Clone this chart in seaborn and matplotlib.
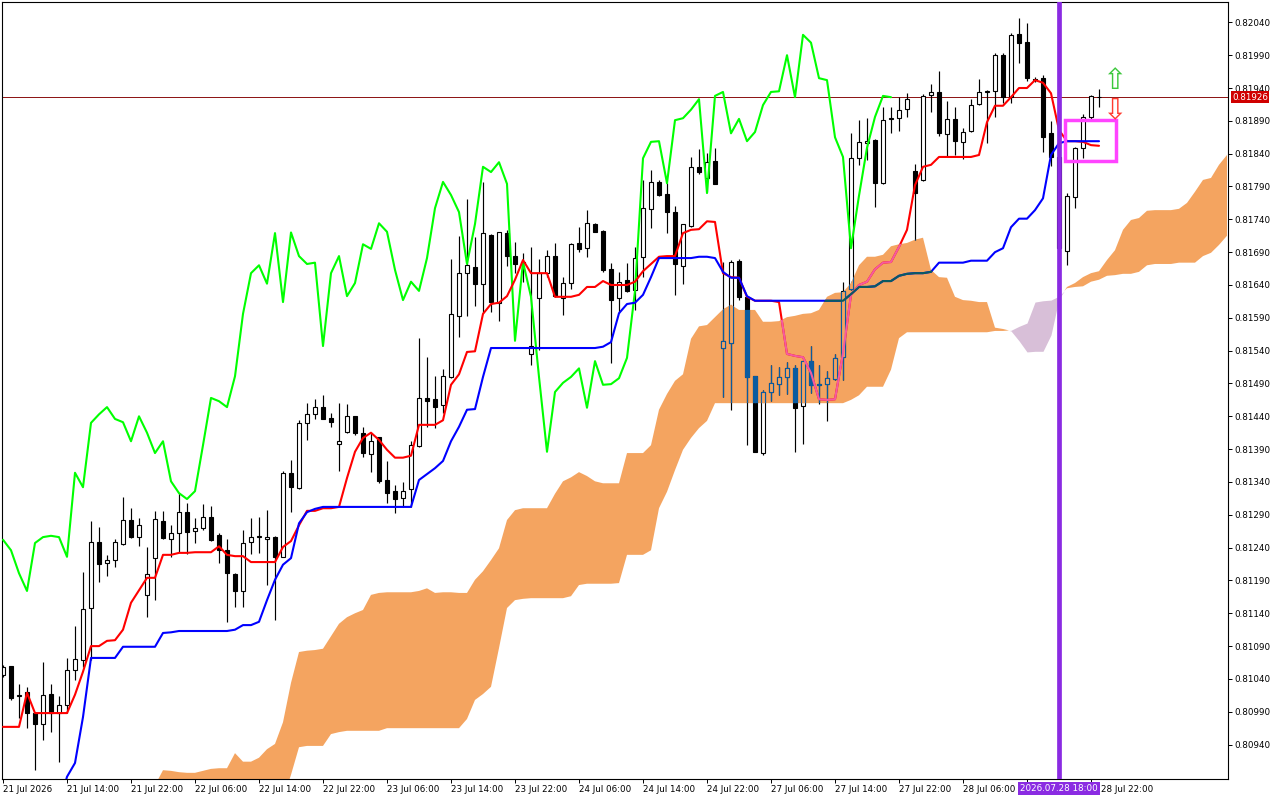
import numpy as np
import pandas as pd
import matplotlib
matplotlib.use("Agg")
import matplotlib.pyplot as plt
import matplotlib.transforms as mtransforms
from matplotlib.path import Path
from matplotlib.patches import Rectangle
import seaborn as sns

nan = np.nan

# ---------------- data (hourly bars, index 0 = 21 Jul 06:00) ----------------
open_ = [
    0.81046, 0.81060, 0.81014, 0.81020, 0.80988, 0.80971, 0.81017, 0.80988, 0.81000, 0.81054,
    0.81069, 0.81148, 0.81249, 0.81217, 0.81221, 0.81246, 0.81282, 0.81256, 0.81168, 0.81224,
    0.81281, 0.81253, 0.81262, 0.81294, 0.81265, 0.81270, 0.81287, 0.81259, 0.81236, 0.81200,
    0.81174, 0.81249, 0.81256, 0.81253, 0.81256, 0.81226, 0.81354, 0.81331, 0.81430, 0.81443,
    0.81454, 0.81437, 0.81398, 0.81416, 0.81440, 0.81415, 0.81383, 0.81408, 0.81343, 0.81326,
    0.81316, 0.81329, 0.81395, 0.81468, 0.81466, 0.81457, 0.81500, 0.81593, 0.81658, 0.81667,
    0.81642, 0.81716, 0.81613, 0.81719, 0.81684, 0.81675, 0.81535, 0.81620, 0.81658, 0.81684,
    0.81620, 0.81643, 0.81704, 0.81696, 0.81733, 0.81722, 0.81664, 0.81620, 0.81648, 0.81632,
    0.81683, 0.81756, 0.81797, 0.81779, 0.81751, 0.81669, 0.81730, 0.81820, 0.81803, 0.81829,
    0.81544, 0.81552, 0.81677, 0.81622, 0.81501, 0.81384, 0.81477, 0.81489, 0.81500, 0.81513,
    0.81456, 0.81524, 0.81488, 0.81489, 0.81497, 0.81530, 0.81634, 0.81833, 0.81856, 0.81861,
    0.81795, 0.81893, 0.81894, 0.81908, 0.81814, 0.81800, 0.81929, 0.81934, 0.81870, 0.81893,
    0.81858, 0.81875, 0.81916, 0.81934, 0.81935, 0.81990, 0.81926, 0.82022, 0.82010, 0.81954,
    0.81955, 0.81871, 0.81835, 0.81692, 0.81774, 0.81849, 0.81896, 0.81927,
]
high = [
    0.81061, 0.81060, 0.81032, 0.81028, 0.80989, 0.81066, 0.81032, 0.81014, 0.81072, 0.81121,
    0.81203, 0.81281, 0.81271, 0.81229, 0.81253, 0.81317, 0.81300, 0.81285, 0.81241, 0.81296,
    0.81296, 0.81274, 0.81323, 0.81308, 0.81285, 0.81306, 0.81303, 0.81262, 0.81253, 0.81201,
    0.81267, 0.81285, 0.81287, 0.81297, 0.81257, 0.81357, 0.81373, 0.81434, 0.81460, 0.81466,
    0.81472, 0.81445, 0.81460, 0.81459, 0.81441, 0.81424, 0.81415, 0.81409, 0.81372, 0.81335,
    0.81340, 0.81402, 0.81559, 0.81530, 0.81501, 0.81512, 0.81680, 0.81715, 0.81771, 0.81713,
    0.81797, 0.81717, 0.81721, 0.81724, 0.81705, 0.81689, 0.81698, 0.81680, 0.81693, 0.81704,
    0.81652, 0.81704, 0.81728, 0.81754, 0.81734, 0.81723, 0.81674, 0.81660, 0.81674, 0.81698,
    0.81800, 0.81815, 0.81800, 0.81795, 0.81760, 0.81733, 0.81835, 0.81847, 0.81841, 0.81849,
    0.81675, 0.81678, 0.81680, 0.81623, 0.81502, 0.81480, 0.81518, 0.81515, 0.81523, 0.81518,
    0.81524, 0.81547, 0.81518, 0.81509, 0.81535, 0.81645, 0.81871, 0.81891, 0.81894, 0.81862,
    0.81911, 0.81911, 0.81926, 0.81932, 0.81824, 0.81931, 0.81946, 0.81966, 0.81920, 0.81911,
    0.81879, 0.81923, 0.81954, 0.81937, 0.81993, 0.81993, 0.82024, 0.82047, 0.82039, 0.81957,
    0.81960, 0.81890, 0.81846, 0.81780, 0.81850, 0.81900, 0.81929, 0.81939,
]
low = [
    0.81043, 0.81008, 0.80981, 0.80965, 0.80901, 0.80947, 0.80959, 0.80914, 0.80988, 0.81038,
    0.81058, 0.81069, 0.81188, 0.81197, 0.81211, 0.81244, 0.81255, 0.81242, 0.81134, 0.81160,
    0.81253, 0.81226, 0.81233, 0.81230, 0.81247, 0.81267, 0.81250, 0.81217, 0.81127, 0.81150,
    0.81150, 0.81230, 0.81232, 0.81183, 0.81130, 0.81225, 0.81294, 0.81329, 0.81404, 0.81436,
    0.81436, 0.81424, 0.81357, 0.81415, 0.81412, 0.81378, 0.81355, 0.81338, 0.81308, 0.81293,
    0.81302, 0.81302, 0.81393, 0.81424, 0.81422, 0.81445, 0.81499, 0.81561, 0.81593, 0.81608,
    0.81597, 0.81599, 0.81585, 0.81669, 0.81658, 0.81645, 0.81518, 0.81541, 0.81652, 0.81622,
    0.81594, 0.81634, 0.81690, 0.81683, 0.81721, 0.81660, 0.81521, 0.81597, 0.81629, 0.81602,
    0.81652, 0.81727, 0.81776, 0.81719, 0.81625, 0.81642, 0.81728, 0.81809, 0.81782, 0.81794,
    0.81469, 0.81450, 0.81617, 0.81396, 0.81385, 0.81381, 0.81463, 0.81472, 0.81474, 0.81386,
    0.81398, 0.81476, 0.81459, 0.81433, 0.81496, 0.81496, 0.81633, 0.81823, 0.81830, 0.81759,
    0.81794, 0.81871, 0.81875, 0.81896, 0.81709, 0.81799, 0.81903, 0.81867, 0.81836, 0.81838,
    0.81832, 0.81873, 0.81914, 0.81856, 0.81896, 0.81917, 0.81917, 0.81978, 0.81951, 0.81949,
    0.81843, 0.81821, 0.81675, 0.81670, 0.81757, 0.81833, 0.81891, 0.81911,
]
close = [
    0.81058, 0.81011, 0.81016, 0.80988, 0.80971, 0.81016, 0.80988, 0.81000, 0.81054, 0.81070,
    0.81147, 0.81249, 0.81215, 0.81221, 0.81249, 0.81282, 0.81256, 0.81274, 0.81200, 0.81284,
    0.81255, 0.81262, 0.81294, 0.81264, 0.81270, 0.81287, 0.81252, 0.81236, 0.81201, 0.81174,
    0.81247, 0.81256, 0.81258, 0.81256, 0.81226, 0.81354, 0.81332, 0.81430, 0.81443, 0.81454,
    0.81436, 0.81431, 0.81402, 0.81440, 0.81415, 0.81384, 0.81402, 0.81341, 0.81323, 0.81314,
    0.81326, 0.81396, 0.81468, 0.81463, 0.81454, 0.81501, 0.81596, 0.81658, 0.81670, 0.81642,
    0.81719, 0.81614, 0.81720, 0.81684, 0.81672, 0.81674, 0.81547, 0.81658, 0.81684, 0.81623,
    0.81643, 0.81702, 0.81695, 0.81734, 0.81721, 0.81663, 0.81617, 0.81645, 0.81631, 0.81681,
    0.81757, 0.81797, 0.81777, 0.81751, 0.81672, 0.81733, 0.81820, 0.81812, 0.81827, 0.81794,
    0.81555, 0.81675, 0.81622, 0.81500, 0.81386, 0.81477, 0.81491, 0.81500, 0.81513, 0.81453,
    0.81524, 0.81488, 0.81489, 0.81498, 0.81529, 0.81631, 0.81833, 0.81858, 0.81859, 0.81795,
    0.81891, 0.81894, 0.81907, 0.81923, 0.81780, 0.81928, 0.81934, 0.81871, 0.81893, 0.81859,
    0.81873, 0.81914, 0.81934, 0.81935, 0.81990, 0.81926, 0.82021, 0.82009, 0.81955, 0.81952,
    0.81865, 0.81835, 0.81696, 0.81776, 0.81849, 0.81896, 0.81928, 0.81926,
]
tenkan = [
    0.80967, 0.80967, 0.80967, 0.81019, 0.80988, 0.80988, 0.80988, 0.80988, 0.80988, 0.81016,
    0.81051, 0.81090, 0.81090, 0.81098, 0.81099, 0.81115, 0.81156, 0.81175, 0.81194, 0.81194,
    0.81229, 0.81229, 0.81232, 0.81232, 0.81233, 0.81233, 0.81233, 0.81242, 0.81229, 0.81227,
    0.81227, 0.81218, 0.81218, 0.81218, 0.81218, 0.81241, 0.81250, 0.81274, 0.81296, 0.81296,
    0.81300, 0.81300, 0.81302, 0.81346, 0.81386, 0.81407, 0.81415, 0.81404, 0.81389, 0.81377,
    0.81377, 0.81380, 0.81427, 0.81427, 0.81427, 0.81434, 0.81488, 0.81504, 0.81538, 0.81539,
    0.81596, 0.81611, 0.81613, 0.81623, 0.81648, 0.81678, 0.81658, 0.81658, 0.81658, 0.81622,
    0.81622, 0.81622, 0.81625, 0.81637, 0.81637, 0.81646, 0.81640, 0.81640, 0.81640, 0.81645,
    0.81661, 0.81672, 0.81683, 0.81684, 0.81684, 0.81719, 0.81724, 0.81725, 0.81737, 0.81736,
    0.81658, 0.81652, 0.81651, 0.81622, 0.81616, 0.81616, 0.81616, 0.81614, 0.81535, 0.81532,
    0.81530, 0.81506, 0.81466, 0.81465, 0.81466, 0.81536, 0.81625, 0.81640, 0.81645, 0.81664,
    0.81674, 0.81675, 0.81698, 0.81724, 0.81792, 0.81820, 0.81823, 0.81835, 0.81835, 0.81835,
    0.81835, 0.81835, 0.81838, 0.81888, 0.81913, 0.81913, 0.81926, 0.81940, 0.81940, 0.81952,
    0.81948, 0.81932, 0.81876, 0.81859, 0.81859, 0.81858, 0.81853, 0.81852,
]
kijun = [
    nan, nan, nan, nan, nan, nan, nan, 0.80848, 0.80891, 0.80912,
    0.80982, 0.81072, 0.81072, 0.81072, 0.81072, 0.81089, 0.81089, 0.81089, 0.81089, 0.81089,
    0.81110, 0.81111, 0.81113, 0.81113, 0.81113, 0.81113, 0.81113, 0.81113, 0.81113, 0.81115,
    0.81122, 0.81122, 0.81127, 0.81160, 0.81191, 0.81214, 0.81224, 0.81277, 0.81294, 0.81299,
    0.81302, 0.81302, 0.81302, 0.81302, 0.81302, 0.81302, 0.81302, 0.81302, 0.81302, 0.81302,
    0.81302, 0.81302, 0.81343, 0.81352, 0.81361, 0.81372, 0.81402, 0.81424, 0.81450, 0.81451,
    0.81500, 0.81544, 0.81544, 0.81544, 0.81544, 0.81544, 0.81544, 0.81544, 0.81544, 0.81544,
    0.81544, 0.81544, 0.81544, 0.81544, 0.81544, 0.81546, 0.81553, 0.81597, 0.81611, 0.81613,
    0.81625, 0.81652, 0.81681, 0.81681, 0.81681, 0.81681, 0.81681, 0.81683, 0.81683, 0.81681,
    0.81660, 0.81651, 0.81651, 0.81623, 0.81616, 0.81616, 0.81616, 0.81616, 0.81616, 0.81616,
    0.81616, 0.81616, 0.81616, 0.81616, 0.81616, 0.81616, 0.81626, 0.81637, 0.81637, 0.81638,
    0.81646, 0.81646, 0.81654, 0.81657, 0.81658, 0.81658, 0.81660, 0.81674, 0.81674, 0.81674,
    0.81674, 0.81677, 0.81677, 0.81677, 0.81690, 0.81696, 0.81728, 0.81741, 0.81741, 0.81754,
    0.81772, 0.81838, 0.81856, 0.81859, 0.81859, 0.81859, 0.81859, 0.81859,
]
span_a = [
    nan, nan, nan, nan, nan, nan, nan, nan, nan, nan,
    nan, nan, nan, nan, nan, nan, nan, nan, nan, 0.80878,
    0.80901, 0.80900, 0.80898, 0.80897, 0.80897, 0.80900, 0.80903, 0.80904, 0.80904, 0.80927,
    0.80914, 0.80914, 0.80920, 0.80933, 0.80941, 0.80974, 0.81034, 0.81081, 0.81083, 0.81084,
    0.81086, 0.81105, 0.81124, 0.81134, 0.81140, 0.81145, 0.81168, 0.81171, 0.81172, 0.81172,
    0.81172, 0.81172, 0.81174, 0.81178, 0.81171, 0.81172, 0.81172, 0.81171, 0.81171, 0.81191,
    0.81204, 0.81221, 0.81239, 0.81282, 0.81297, 0.81300, 0.81300, 0.81300, 0.81300, 0.81322,
    0.81341, 0.81347, 0.81355, 0.81349, 0.81341, 0.81338, 0.81338, 0.81338, 0.81384, 0.81384,
    0.81384, 0.81396, 0.81450, 0.81474, 0.81494, 0.81504, 0.81558, 0.81577, 0.81579, 0.81591,
    0.81603, 0.81610, 0.81602, 0.81602, 0.81602, 0.81584, 0.81584, 0.81585, 0.81591, 0.81593,
    0.81596, 0.81597, 0.81602, 0.81622, 0.81628, 0.81629, 0.81643, 0.81670, 0.81683, 0.81683,
    0.81686, 0.81699, 0.81702, 0.81704, 0.81709, 0.81712, 0.81663, 0.81652, 0.81651, 0.81622,
    0.81617, 0.81616, 0.81614, 0.81614, 0.81575, 0.81573, 0.81570, 0.81555, 0.81538, 0.81539,
    0.81539, 0.81564, 0.81619, 0.81637, 0.81643, 0.81652, 0.81658, 0.81661, 0.81678, 0.81693,
    0.81724, 0.81739, 0.81742, 0.81753, 0.81754, 0.81754, 0.81754, 0.81756, 0.81765, 0.81782,
    0.81800, 0.81803, 0.81823, 0.81838,
]
span_b = [
    nan, nan, nan, nan, nan, nan, nan, nan, nan, nan,
    nan, nan, nan, nan, nan, nan, nan, nan, nan, 0.80856,
    0.80856, 0.80856, 0.80856, 0.80856, 0.80856, 0.80856, 0.80856, 0.80856, 0.80856, 0.80856,
    0.80856, 0.80856, 0.80856, 0.80856, 0.80856, 0.80856, 0.80894, 0.80936, 0.80938, 0.80938,
    0.80938, 0.80956, 0.80959, 0.80961, 0.80961, 0.80961, 0.80961, 0.80961, 0.80965, 0.80965,
    0.80965, 0.80965, 0.80965, 0.80965, 0.80965, 0.80965, 0.80965, 0.80965, 0.80979, 0.81008,
    0.81017, 0.81028, 0.81087, 0.81148, 0.81160, 0.81162, 0.81163, 0.81163, 0.81163, 0.81163,
    0.81163, 0.81166, 0.81183, 0.81185, 0.81185, 0.81185, 0.81185, 0.81186, 0.81229, 0.81229,
    0.81229, 0.81236, 0.81300, 0.81325, 0.81358, 0.81389, 0.81407, 0.81422, 0.81433, 0.81460,
    0.81460, 0.81460, 0.81460, 0.81460, 0.81460, 0.81460, 0.81460, 0.81460, 0.81460, 0.81460,
    0.81460, 0.81460, 0.81460, 0.81460, 0.81460, 0.81460, 0.81465, 0.81472, 0.81485, 0.81485,
    0.81485, 0.81511, 0.81559, 0.81568, 0.81568, 0.81568, 0.81568, 0.81568, 0.81568, 0.81568,
    0.81568, 0.81568, 0.81568, 0.81568, 0.81570, 0.81570, 0.81571, 0.81577, 0.81582, 0.81614,
    0.81616, 0.81617, 0.81623, 0.81635, 0.81637, 0.81638, 0.81645, 0.81648, 0.81654, 0.81655,
    0.81657, 0.81657, 0.81660, 0.81670, 0.81672, 0.81672, 0.81672, 0.81674, 0.81674, 0.81674,
    0.81684, 0.81689, 0.81701, 0.81715,
]
chikou_shift = 26

time_tick_bars = [0, 8, 16, 24, 32, 40, 48, 56, 64, 72, 80, 88, 96, 104, 112, 120, 128, 136]
time_tick_labels = [
    "21 Jul 2026", "21 Jul 14:00", "21 Jul 22:00", "22 Jul 06:00", "22 Jul 14:00",
    "22 Jul 22:00", "23 Jul 06:00", "23 Jul 14:00", "23 Jul 22:00", "24 Jul 06:00",
    "24 Jul 14:00", "24 Jul 22:00", "27 Jul 06:00", "27 Jul 14:00", "27 Jul 22:00",
    "28 Jul 06:00", "", "28 Jul 22:00",
]
price_ticks = [
    0.80940, 0.80990, 0.81040, 0.81090, 0.81140, 0.81190, 0.81240, 0.81290,
    0.81340, 0.81390, 0.81440, 0.81490, 0.81540, 0.81590, 0.81640, 0.81690,
    0.81740, 0.81790, 0.81840, 0.81890, 0.81940, 0.81990, 0.82040,
]
current_price = 0.81926
marker_bar = 132
marker_label = "2026.07.28 18:00"
box_bars = [132.75, 139.1]
box_prices = [0.81829, 0.81891]
arrow_bar = 138.9
arrow_up_price = 0.81950
arrow_down_price = 0.81906

# ---------------- styling ----------------
sns.set_theme(style="white")
plt.rcParams["font.family"] = ["DejaVu Sans"]

C_CLOUD = "#F4A460"
C_THISTLE = "#D8BFD8"
# colours after the terminal's XOR blend of the cloud over other marks
X_BLACK = "#0B5B9F"
X_WHITE = "#F4A460"
X_RED = "#F45B9F"
X_BLUE = "#0B5B60"
X_LIME = "#0BA49F"
TICK_FS = 6.3

n = len(close)
df = pd.DataFrame({"bar": np.arange(n), "open": open_, "high": high, "low": low,
                   "close": close, "tenkan": tenkan, "kijun": kijun})
cloud = pd.DataFrame({"bar": np.arange(len(span_a)), "a": span_a, "b": span_b})
chikou = pd.DataFrame({"bar": np.arange(n - chikou_shift),
                       "value": df["close"].values[chikou_shift:]})

fig = plt.figure(figsize=(12.8, 8), dpi=100, facecolor="white")
ax = fig.add_axes([2 / 1280, 21 / 800, 1226 / 1280, 777 / 800])
ax.set_facecolor("white")
ax.set_xlim(-0.125, 153.125)
ax.set_ylim(0.808876, 0.82071)

# cloud
xa = cloud["bar"].values
a = cloud["a"].values
b = cloud["b"].values
with np.errstate(invalid="ignore"):
    orange = ax.fill_between(xa, a, b, where=a >= b, interpolate=True,
                             color=C_CLOUD, lw=0, zorder=1)
    ax.fill_between(xa, a, b, where=b > a, interpolate=True,
                    color=C_THISTLE, lw=0, zorder=1)
clip_path = Path.make_compound_path(*orange.get_paths())

# current price line
ax.axhline(current_price, color="#8B1010", lw=0.7, zorder=1.5)


def draw_candles(up_c, down_c, edge_c, wick_c, z, clip=None):
    lo = np.minimum(df["open"], df["close"])
    h = (df["close"] - df["open"]).abs()
    cols = np.where(df["close"] >= df["open"], up_c, down_c)
    wl = ax.vlines(df["bar"], df["low"], df["high"], color=wick_c, lw=0.85, zorder=z)
    bc = ax.bar(df["bar"], h, bottom=lo, width=0.6, color=cols,
                edgecolor=edge_c, linewidth=0.8, zorder=z + 0.1)
    if clip is not None:
        wl.set_clip_path(clip, ax.transData)
        for r in bc:
            r.set_clip_path(clip, ax.transData)


draw_candles("white", "black", "black", "black", 2)
draw_candles(X_WHITE, X_BLACK, X_BLACK, X_BLACK, 5, clip_path)


def draw_line(data, ycol, color, z, clip=None):
    sns.lineplot(data=data, x="bar", y=ycol, ax=ax, color=color, lw=1.5,
                 estimator=None, sort=False, zorder=z)
    if clip is not None:
        ax.lines[-1].set_clip_path(clip, ax.transData)


draw_line(chikou, "value", "#00FF00", 4)
draw_line(df, "tenkan", "#FF0000", 4.1)
draw_line(df, "kijun", "#0000FF", 4.2)
draw_line(chikou, "value", X_LIME, 7, clip_path)
draw_line(df, "tenkan", X_RED, 7.1, clip_path)
draw_line(df, "kijun", X_BLUE, 7.2, clip_path)

# vertical marker
ax.axvline(marker_bar, color="#8A2BE2", lw=3.4, zorder=8)

# highlight box and arrows
ax.add_patch(Rectangle((box_bars[0], box_prices[0]), box_bars[1] - box_bars[0],
                       box_prices[1] - box_prices[0], fill=False,
                       edgecolor="#FF44FF", lw=2.5, zorder=9))
ax.text(arrow_bar, arrow_up_price, "\u21e7", color="#3CC83C", fontsize=21,
        ha="center", va="center", zorder=9)
ax.text(arrow_bar, arrow_down_price, "\u21e9", color="#FF3B2F", fontsize=21,
        ha="center", va="center", zorder=9)

# axes decorations
ax.set_xlabel("")
ax.set_ylabel("")
ax.set_xticks(time_tick_bars)
ax.set_xticklabels(time_tick_labels[:-1] + [""], ha="left", fontsize=TICK_FS)
ax.yaxis.tick_right()
ax.set_yticks(price_ticks)
ax.set_yticklabels([f"{p:.5f}" for p in price_ticks], fontsize=TICK_FS)
ax.tick_params(axis="x", bottom=True, direction="out", length=3, width=0.7,
               color="black", pad=1.2, labelcolor="black")
ax.tick_params(axis="y", right=True, left=False, direction="out", length=3,
               width=0.7, color="black", pad=1.5, labelcolor="black")
ax.grid(False)
for s in ax.spines.values():
    s.set_color("black")
    s.set_linewidth(0.8)
    s.set_visible(True)

tx = mtransforms.blended_transform_factory(ax.transData, ax.transAxes)
# last date label: starts just right of the time tag, as in the terminal
ax.text(time_tick_bars[-1], 0, time_tick_labels[-1], fontsize=TICK_FS, color="black",
        ha="left", va="top", clip_on=False, zorder=9,
        transform=tx + mtransforms.ScaledTranslation(10 / 100, -4.4 / 72,
                                                     fig.dpi_scale_trans))

# price tag
ty = mtransforms.blended_transform_factory(ax.transAxes, ax.transData)
ax.text(1.0035, current_price, f"{current_price:.5f}", transform=ty, ha="left",
        va="center", fontsize=TICK_FS, color="white", zorder=10, clip_on=False,
        bbox=dict(boxstyle="square,pad=0.15", fc="#D00000", ec="none"))
# time tag
ax.text(marker_bar, -0.0062, marker_label, transform=tx, ha="center", va="top",
        fontsize=TICK_FS, color="white", zorder=10, clip_on=False,
        bbox=dict(boxstyle="square,pad=0.2", fc="#8A2BE2", ec="none"))

fig.savefig("out.png", dpi=100, facecolor="white")
